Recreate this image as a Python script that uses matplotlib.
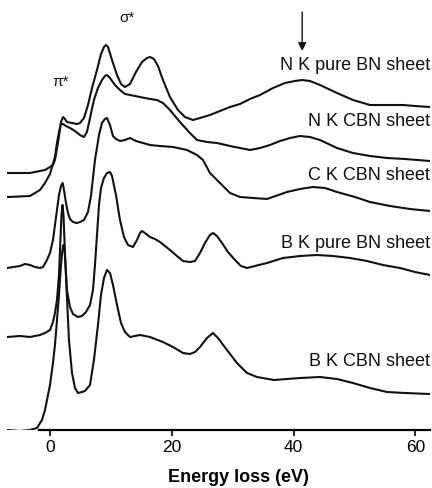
import matplotlib
matplotlib.use("Agg")
import matplotlib.pyplot as plt

plt.rcParams['font.family'] = ['Liberation Sans', 'DejaVu Sans']

# ---- data (energy in eV, intensity in a.u. above each spectrum's own baseline) ----
nk_pure_E = [-7.15, -3.37, -1.73, -0.90, -0.08, 0.41, 0.74, 1.23, 1.73, 2.06, 2.38, 2.71, 3.54, 4.36,
             4.85, 5.51, 6.17, 6.83, 7.65, 8.31, 8.80, 9.13, 9.46, 10.12, 10.94, 11.60, 12.25, 13.08,
             14.06, 15.05, 15.87, 16.37, 17.02, 17.68, 18.50, 19.65, 20.97, 22.12, 23.44, 24.59,
             26.23, 27.88, 29.52, 31.17, 32.81, 34.46, 36.60, 38.57, 40.21, 41.37, 42.68, 44.33,
             47.12, 49.75, 52.55, 55.02, 57.98, 59.95, 62.42]
nk_pure_I = [0.00, 0.00, 0.02, 0.03, 0.06, 0.08, 0.13, 0.30, 0.51, 0.56, 0.54, 0.51, 0.50, 0.49,
             0.50, 0.55, 0.68, 0.85, 1.03, 1.19, 1.26, 1.28, 1.26, 1.13, 0.98, 0.89, 0.86, 0.89,
             1.01, 1.11, 1.15, 1.16, 1.14, 1.07, 0.93, 0.76, 0.63, 0.56, 0.53, 0.55,
             0.58, 0.62, 0.66, 0.69, 0.74, 0.78, 0.85, 0.90, 0.92, 0.93, 0.92, 0.88,
             0.80, 0.73, 0.68, 0.68, 0.68, 0.67, 0.66]

nk_cbn_E = [-6.99, -3.37, -2.55, -1.73, -0.90, -0.08, 0.25, 0.74, 1.07, 1.40, 1.73, 2.06, 2.55, 3.21,
            4.03, 4.85, 5.51, 6.00, 6.50, 7.15, 7.81, 8.47, 8.96, 9.29, 9.79, 10.61, 11.43, 12.25,
            13.08, 14.72, 16.37, 17.52, 18.50, 19.65, 21.30, 22.94, 24.10, 25.74, 27.38, 29.52,
            31.17, 32.81, 34.46, 36.10, 37.75, 39.39, 41.04, 42.68, 44.33, 47.12, 49.75, 52.55,
            55.35, 58.31, 62.42]
nk_cbn_I = [0.00, 0.01, 0.04, 0.07, 0.14, 0.23, 0.30, 0.40, 0.54, 0.65, 0.73, 0.73, 0.71, 0.69,
            0.66, 0.62, 0.60, 0.65, 0.79, 0.97, 1.09, 1.17, 1.21, 1.22, 1.19, 1.12, 1.07, 1.03,
            1.02, 1.00, 0.98, 0.97, 0.94, 0.87, 0.75, 0.64, 0.57, 0.55, 0.54, 0.51,
            0.49, 0.47, 0.49, 0.52, 0.56, 0.59, 0.61, 0.60, 0.57, 0.49, 0.44, 0.41,
            0.39, 0.38, 0.36]

ck_cbn_E = [-7.15, -5.02, -4.19, -3.37, -2.55, -1.73, -1.23, -0.58, -0.08, 0.41, 0.74, 1.07, 1.40,
            1.73, 2.01, 2.22, 2.55, 2.88, 3.21, 3.70, 4.36, 4.85, 5.51, 6.17, 6.66, 7.32, 7.98,
            8.47, 8.96, 9.29, 9.79, 10.28, 10.77, 11.43, 12.25, 13.08, 14.06, 15.21, 16.37, 18.01,
            20.15, 22.45, 24.10, 25.08, 26.23, 27.88, 29.52, 31.17, 33.31, 35.61, 38.90, 41.04,
            43.17, 45.15, 47.12, 50.08, 52.55, 55.84, 59.13, 62.42]
ck_cbn_I = [0.00, 0.02, 0.04, 0.03, 0.01, 0.00, 0.01, 0.08, 0.15, 0.28, 0.43, 0.58, 0.73,
            0.82, 0.85, 0.78, 0.65, 0.55, 0.49, 0.46, 0.45, 0.46, 0.48, 0.56, 0.72, 1.08, 1.33,
            1.45, 1.49, 1.50, 1.43, 1.32, 1.29, 1.27, 1.28, 1.30, 1.27, 1.25, 1.23, 1.22,
            1.21, 1.18, 1.13, 1.08, 0.95, 0.85, 0.75, 0.71, 0.70, 0.69, 0.76, 0.79,
            0.81, 0.80, 0.76, 0.71, 0.66, 0.62, 0.59, 0.57]

bk_pure_E = [-7.15, -5.02, -3.37, -1.73, -0.90, -0.08, 0.41, 0.74, 1.07, 1.40, 1.64, 1.81, 1.97,
             2.14, 2.30, 2.47, 2.71, 3.21, 3.70, 4.52, 5.18, 5.84, 6.50, 6.99, 7.32, 7.65, 7.98,
             8.31, 8.80, 9.29, 9.79, 10.12, 10.77, 11.43, 12.09, 12.75, 13.57, 14.23, 14.72, 15.05,
             15.54, 16.37, 17.19, 18.01, 18.83, 19.65, 20.81, 21.79, 22.94, 23.77, 24.59, 25.41,
             26.23, 26.73, 27.38, 28.21, 29.19, 30.35, 31.33, 32.32, 33.63, 35.61, 38.24, 41.04,
             43.83, 46.46, 49.26, 52.06, 54.69, 57.48, 59.95, 62.42]
bk_pure_I = [0.00, 0.01, 0.00, 0.02, 0.04, 0.07, 0.15, 0.24, 0.37, 0.62, 0.97, 1.22, 1.32,
             1.22, 0.97, 0.72, 0.47, 0.30, 0.23, 0.20, 0.21, 0.25, 0.32, 0.47, 0.72, 1.02, 1.32,
             1.49, 1.59, 1.64, 1.65, 1.61, 1.42, 1.17, 1.00, 0.92, 0.90, 0.97, 1.04, 1.06,
             1.04, 1.00, 0.98, 0.95, 0.91, 0.87, 0.81, 0.76, 0.75, 0.76, 0.84, 0.94,
             1.02, 1.04, 1.01, 0.94, 0.85, 0.77, 0.71, 0.69, 0.71, 0.74, 0.79, 0.81,
             0.82, 0.81, 0.79, 0.76, 0.72, 0.69, 0.65, 0.62]

bk_cbn_E = [-7.15, -5.02, -3.37, -2.22, -1.40, -0.90, -0.41, -0.08, 0.41, 0.74, 1.07, 1.40, 1.73,
            1.97, 2.14, 2.30, 2.47, 2.71, 3.04, 3.54, 4.03, 4.52, 5.18, 5.67, 6.50, 7.15, 7.81,
            8.31, 8.80, 9.29, 9.79, 10.28, 10.94, 11.60, 12.25, 13.08, 13.90, 14.72, 16.37, 18.50,
            20.15, 21.79, 22.94, 23.77, 24.59, 25.74, 26.73, 27.55, 29.03, 30.67, 32.32, 33.96,
            36.76, 41.04, 44.33, 47.12, 49.75, 52.55, 55.35, 58.31, 62.42]
bk_cbn_I = [0.00, -0.01, 0.00, 0.02, 0.10, 0.20, 0.35, 0.45, 0.67, 0.85, 1.10, 1.35, 1.65,
            1.80, 1.85, 1.82, 1.65, 1.33, 0.90, 0.57, 0.42, 0.37, 0.38, 0.39, 0.45, 0.70, 1.05,
            1.35, 1.52, 1.60, 1.57, 1.45, 1.25, 1.07, 0.98, 0.93, 0.94, 0.95, 0.93, 0.88,
            0.83, 0.77, 0.76, 0.78, 0.83, 0.92, 0.97, 0.92, 0.80, 0.67, 0.57, 0.53,
            0.50, 0.52, 0.53, 0.51, 0.47, 0.42, 0.38, 0.37, 0.36]

labels = ["N K pure BN sheet", "N K CBN sheet", "C K CBN sheet", "B K pure BN sheet", "B K CBN sheet"]
offsets = [2.57, 2.33, 1.62, 0.93, 0.00]
label_y = [3.65, 3.08, 2.55, 1.87, 0.68]
xticks = [0, 20, 40, 60]

series = [(nk_pure_E, nk_pure_I), (nk_cbn_E, nk_cbn_I), (ck_cbn_E, ck_cbn_I),
          (bk_pure_E, bk_pure_I), (bk_cbn_E, bk_cbn_I)]

fig = plt.figure(figsize=(4.32, 4.88), dpi=100)
ax = fig.add_axes([7/432, 58/488, 423/432, 430/488])

for (E, I), off in zip(series, offsets):
    ax.plot(E, [v + off for v in I], color='#111111', lw=1.5, solid_joinstyle='round')

for lab, ly in zip(labels, label_y):
    ax.text(62.4, ly, lab, ha='right', va='center', fontsize=13, color='#111111')

ax.text(1.6, 3.48, "π*", ha='center', va='center', fontsize=11, color='#111111')
ax.text(12.6, 4.12, "σ*", ha='center', va='center', fontsize=11, color='#111111')
ax.annotate("", xy=(41.4, 3.79), xytext=(41.4, 4.18),
            arrowprops=dict(arrowstyle='-|>', color='#111111', lw=1.0,
                            mutation_scale=12, shrinkA=0, shrinkB=0))

ax.set_xlim(-7.15, 62.42)
ax.set_ylim(0, 4.30)
for s in ['left', 'right', 'top']:
    ax.spines[s].set_visible(False)
ax.spines['bottom'].set_linewidth(1.6)
ax.spines['bottom'].set_bounds(-1.9, 62.42)
ax.set_yticks([])
ax.set_xticks(xticks)
ax.tick_params(axis='x', direction='out', length=4, width=1.2, labelsize=12.5, pad=3)
ax.set_xlabel("Energy loss (eV)", fontsize=13, fontweight='bold', labelpad=4)
ax.xaxis.set_label_coords((238 - 7) / 423, -0.09)

fig.savefig("out.png", dpi=100)
